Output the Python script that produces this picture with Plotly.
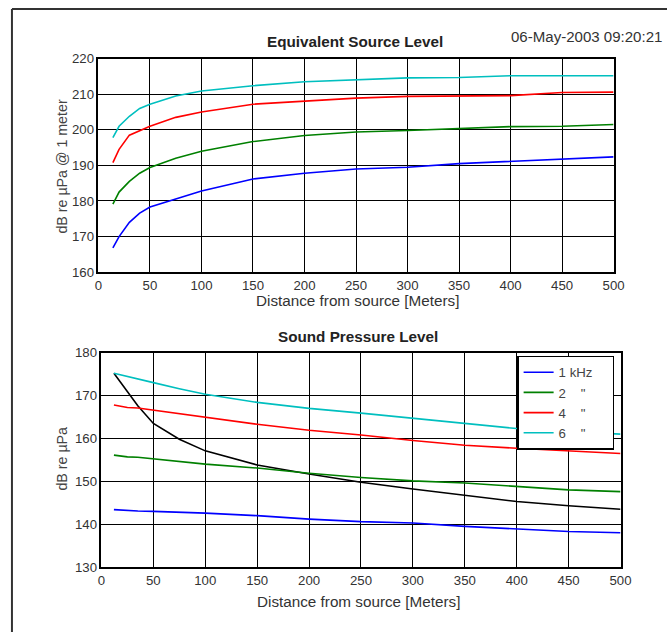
import plotly.graph_objects as go

W, H = 667, 632

# ---------- data ----------
top_dist = [14, 20, 30, 40, 50, 75, 100, 150, 200, 250, 300, 350, 400, 450, 500]
top_1k = [166.8, 170.0, 174.0, 176.6, 178.3, 180.5, 182.8, 186.2, 187.8, 189.0, 189.5, 190.5, 191.2, 191.8, 192.4]
top_2k = [179.1, 182.5, 185.5, 187.8, 189.4, 192.0, 194.0, 196.7, 198.4, 199.4, 199.8, 200.3, 200.9, 201.0, 201.5]
top_4k = [190.8, 194.5, 198.5, 199.7, 201.0, 203.5, 205.0, 207.2, 208.1, 208.9, 209.4, 209.6, 209.6, 210.5, 210.6]
top_6k = [197.8, 201.0, 203.8, 206.0, 207.2, 209.5, 210.9, 212.4, 213.5, 214.0, 214.6, 214.7, 215.2, 215.2, 215.2]

bot_dist = [12, 25, 35, 50, 75, 100, 150, 200, 250, 300, 350, 400, 450, 500]
bot_black = [175.2, 170.8, 167.6, 163.5, 159.8, 157.1, 153.8, 151.7, 149.8, 148.2, 146.7, 145.3, 144.3, 143.5]
bot_6k = [175.2, 174.4, 173.9, 173.0, 171.6, 170.3, 168.4, 167.0, 165.9, 164.7, 163.6, 162.3, 161.6, 161.0]
bot_4k = [167.8, 167.2, 167.1, 166.6, 165.7, 164.9, 163.3, 161.9, 160.8, 159.5, 158.4, 157.7, 157.1, 156.5]
bot_2k = [156.1, 155.7, 155.6, 155.2, 154.6, 154.0, 153.1, 151.9, 150.9, 150.1, 149.6, 148.8, 148.0, 147.6]
bot_1k = [143.4, 143.2, 143.1, 143.0, 142.8, 142.6, 142.0, 141.2, 140.6, 140.3, 139.5, 138.9, 138.3, 138.0]

NB = "\u00a0"
legend_names = ["1 kHz" + NB * 4, "2" + NB * 4 + "\"", "4" + NB * 4 + "\"", "6" + NB * 4 + "\""]
colors = ["#0000ff", "#008000", "#ff0000", "#00bfbf"]
x_ticks = [0, 50, 100, 150, 200, 250, 300, 350, 400, 450, 500]
top_yticks = [160, 170, 180, 190, 200, 210, 220]
bot_yticks = [130, 140, 150, 160, 170, 180]

FONT = "Liberation Sans, Arial, sans-serif"

# the photographed page comes out slightly shrunk; place things in target pixels
S, OX, OY = 0.983, 2.0, 5.0

def px(d):
    return ((d - OX) / S) / W

def py(d):
    return 1 - ((d - OY) / S) / H

def fs(v):
    return v / S

fig = go.Figure()

for ys, c in zip([top_1k, top_2k, top_4k, top_6k], colors):
    fig.add_trace(go.Scatter(x=top_dist, y=ys, mode="lines", line=dict(color=c, width=1.6),
                             xaxis="x", yaxis="y", showlegend=False))

fig.add_trace(go.Scatter(x=bot_dist, y=bot_black, mode="lines", line=dict(color="black", width=1.6),
                         xaxis="x2", yaxis="y2", showlegend=False))
for ys, c, n in zip([bot_1k, bot_2k, bot_4k, bot_6k], colors, legend_names):
    fig.add_trace(go.Scatter(x=bot_dist, y=ys, mode="lines", line=dict(color=c, width=1.6),
                             xaxis="x2", yaxis="y2", name=n, showlegend=True))

ax = dict(showline=True, linecolor="black", linewidth=1.6, mirror=True,
          showgrid=True, gridcolor="black", gridwidth=1.4, zeroline=False,
          ticks="", tickfont=dict(family=FONT, size=fs(13), color="#333"))

fig.update_layout(
    width=W, height=H, margin=dict(l=0, r=0, t=0, b=0),
    paper_bgcolor="white", plot_bgcolor="white",
    xaxis=dict(ax, domain=[px(97), px(615)], range=[0, 500], tickvals=x_ticks, anchor="y"),
    yaxis=dict(ax, domain=[py(272), py(57)], range=[160, 220], tickvals=top_yticks, anchor="x"),
    xaxis2=dict(ax, domain=[px(100), px(622)], range=[0, 500], tickvals=x_ticks, anchor="y2"),
    yaxis2=dict(ax, domain=[py(569), py(353)], range=[130, 180], tickvals=bot_yticks, anchor="x2"),
    legend=dict(x=px(518), y=py(356), xanchor="left", yanchor="top",
                bgcolor="white", bordercolor="black", borderwidth=1.5,
                font=dict(family=FONT, size=fs(13), color="#444"), tracegroupgap=0),
    showlegend=True,
)

ann = [
    dict(text="<b>Equivalent Source Level</b>", x=px(355), y=py(40), font=dict(size=fs(15), color="#222")),
    dict(text="<b>Sound Pressure Level</b>", x=px(358), y=py(337), font=dict(size=fs(15), color="#222")),
    dict(text="06-May-2003 09:20:21", x=px(588), y=py(35), font=dict(size=fs(14.8), color="#333")),
    dict(text="Distance from source [Meters]", x=px(357), y=py(301), font=dict(size=fs(15), color="#333")),
    dict(text="Distance from source [Meters]", x=px(358), y=py(604), font=dict(size=fs(15), color="#333")),
    dict(text="dB re \u00b5Pa @ 1 meter", x=px(60), y=py(166), textangle=-90, font=dict(size=fs(14), color="#444")),
    dict(text="dB re \u00b5Pa", x=px(60), y=py(460), textangle=-90, font=dict(size=fs(14), color="#444")),
]
for a in ann:
    a.update(xref="paper", yref="paper", showarrow=False, xanchor="center", yanchor="middle")
    a["font"]["family"] = FONT
fig.update_layout(annotations=ann)

fig.add_shape(type="line", xref="paper", yref="paper", x0=px(10), x1=px(10), y0=-0.05, y1=py(7),
              line=dict(color="#333", width=2))
fig.add_shape(type="line", xref="paper", yref="paper", x0=px(10), x1=1.05, y0=py(7), y1=py(7),
              line=dict(color="#333", width=2))

post = (
    "var s='margin:0;padding:0;overflow:hidden;width:667px;height:632px;';"
    "document.documentElement.style.cssText=s;document.body.style.cssText=s;"
    "var g=document.getElementsByClassName('plotly-graph-div')[0];"
    "g.style.position='absolute';g.style.left='0px';g.style.top='0px';"
)

fig.write_html("out.html", config={"displayModeBar": False}, post_script=post)
